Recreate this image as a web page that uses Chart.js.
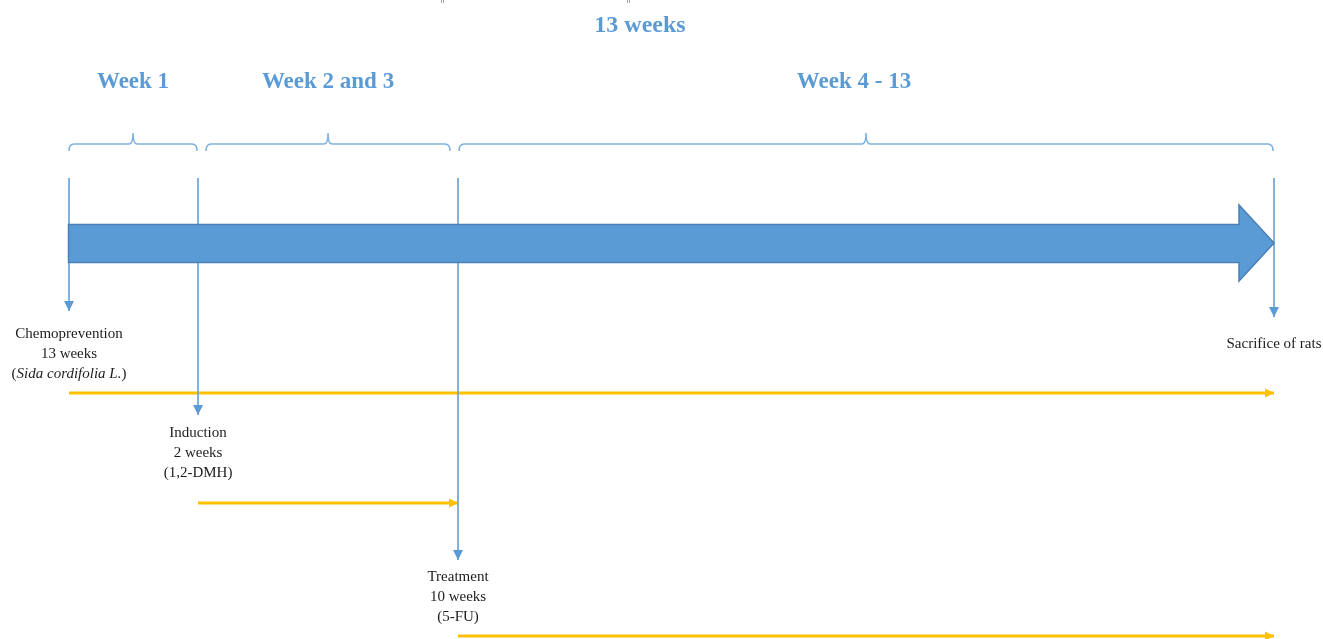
<!DOCTYPE html>
<html>
<head>
<meta charset="utf-8">
<style>
  html, body { margin: 0; padding: 0; background: #ffffff; }
  #wrap { width: 1323px; height: 639px; position: relative; }
</style>
<script src="https://cdn.jsdelivr.net/npm/chart.js@4.4.1/dist/chart.umd.min.js"></script>
</head>
<body>
<div id="wrap"><canvas id="c"></canvas></div>
<script>
// ---------- DATA ----------
const totalTitle = '13 weeks';
const periodLabels = ['Week 1', 'Week 2 and 3', 'Week 4 - 13'];
const periodStartWeek = [0, 1, 3];
const periodEndWeek = [1, 3, 13];

const phaseNames = ['Chemoprevention', 'Induction', 'Treatment'];
const phaseDurations = ['13 weeks', '2 weeks', '10 weeks'];
const phaseAgents = ['Sida cordifolia L.', '1,2-DMH', '5-FU'];
const phaseAgentItalic = [true, false, false];
const phaseStartWeek = [0, 1, 3];
const phaseEndWeek = [13, 3, 13];

const endLabel = 'Sacrifice of rats';
const endWeek = 13;

// ---------- LAYOUT (schematic, not data) ----------
const milestoneWeeks = [0, 1, 3, 13];
const milestoneAxis = [0, 1.392, 4.197, 13];   // schematic spacing of the drawing
function wx(w) {
  for (let i = 0; i < milestoneWeeks.length - 1; i++) {
    const a = milestoneWeeks[i], b = milestoneWeeks[i + 1];
    if (w <= b) return milestoneAxis[i] + (w - a) / (b - a) * (milestoneAxis[i + 1] - milestoneAxis[i]);
  }
  return milestoneAxis[milestoneAxis.length - 1];
}
const L = {
  titleY: 26, titleX: 6.16,
  periodLabelY: 81, periodLabelShift: [0, 0, -12],
  braceY: 144, braceTipY: 133, braceEndY: 151,
  braceInset: [[0, 1], [8, 8], [1, 1]],
  markerTop: 178,
  arrowBodyTop: 224.5, arrowBodyBottom: 262.5, arrowHeadTop: 205, arrowHeadBottom: 281, arrowHeadLen: 35,
  phaseTipY: [311, 415, 560],
  phaseTextY: [334.5, 433.5, 577.5], lineGap: 20,
  phaseBarY: [393, 503, 636],
  endTipY: 317, endTextY: 344.5
};
const BLUE = '#5B9BD5', LINEBLUE = '#6FA7DC', BRACE = '#7FB0DE', ORANGE = '#FFC000', TEXT = '#1c1c1c';
const SERIF = '"Liberation Serif", "Times New Roman", serif';

// ---------- datasets ----------
const datasets = [];
phaseStartWeek.forEach((w, i) => {
  datasets.push({ data: [{ x: wx(w), y: L.markerTop }, { x: wx(w), y: L.phaseTipY[i] }],
    borderColor: LINEBLUE, borderWidth: 1, showLine: true, pointRadius: 0, _arrow: 'down', _color: BLUE });
});
datasets.push({ data: [{ x: wx(endWeek), y: L.markerTop }, { x: wx(endWeek), y: L.endTipY }],
  borderColor: LINEBLUE, borderWidth: 1, showLine: true, pointRadius: 0, _arrow: 'down', _color: BLUE });
phaseStartWeek.forEach((w, i) => {
  datasets.push({ data: [{ x: wx(w), y: L.phaseBarY[i] }, { x: wx(phaseEndWeek[i]), y: L.phaseBarY[i] }],
    borderColor: ORANGE, borderWidth: 3, showLine: true, pointRadius: 0, _arrow: 'right', _color: ORANGE });
});

// ---------- plugin ----------
const diagram = {
  id: 'diagram',
  afterDatasetsDraw(chart) {
    const { ctx, scales: { x, y } } = chart;
    ctx.save();
    // big timeline arrow (drawn over marker lines)
    const x0 = x.getPixelForValue(wx(0)) - 0.5, x1 = x.getPixelForValue(wx(13));
    const hb = x1 - L.arrowHeadLen;
    const bt = y.getPixelForValue(L.arrowBodyTop), bb = y.getPixelForValue(L.arrowBodyBottom);
    const ht = y.getPixelForValue(L.arrowHeadTop), hbm = y.getPixelForValue(L.arrowHeadBottom);
    ctx.beginPath();
    ctx.moveTo(x0, bt); ctx.lineTo(hb, bt); ctx.lineTo(hb, ht); ctx.lineTo(x1, (ht + hbm) / 2);
    ctx.lineTo(hb, hbm); ctx.lineTo(hb, bb); ctx.lineTo(x0, bb); ctx.closePath();
    ctx.fillStyle = BLUE; ctx.fill();
    ctx.strokeStyle = '#4A80B8'; ctx.lineWidth = 1.5; ctx.stroke();

    // arrowheads
    chart.data.datasets.forEach((ds) => {
      const p = ds.data[ds.data.length - 1];
      const px = x.getPixelForValue(p.x), py = y.getPixelForValue(p.y);
      ctx.fillStyle = ds._color;
      ctx.beginPath();
      if (ds._arrow === 'down') {
        ctx.moveTo(px, py); ctx.lineTo(px - 5, py - 10); ctx.lineTo(px + 5, py - 10);
      } else {
        ctx.moveTo(px, py); ctx.lineTo(px - 9, py - 4.5); ctx.lineTo(px - 9, py + 4.5);
      }
      ctx.closePath(); ctx.fill();
    });
    // braces
    ctx.strokeStyle = BRACE; ctx.lineWidth = 1.5;
    const by = y.getPixelForValue(L.braceY), btp = y.getPixelForValue(L.braceTipY), be = y.getPixelForValue(L.braceEndY);
    periodStartWeek.forEach((w, i) => {
      const a = x.getPixelForValue(wx(w)) + L.braceInset[i][0];
      const b = x.getPixelForValue(wx(periodEndWeek[i])) - L.braceInset[i][1];
      const m = (a + b) / 2;
      ctx.beginPath();
      ctx.moveTo(a, be);
      ctx.quadraticCurveTo(a, by, a + 5, by);
      ctx.lineTo(m - 4, by);
      ctx.quadraticCurveTo(m, by, m, btp);
      ctx.quadraticCurveTo(m, by, m + 4, by);
      ctx.lineTo(b - 5, by);
      ctx.quadraticCurveTo(b, by, b, be);
      ctx.stroke();
    });
    // cut-off marks at top edge
    ctx.strokeStyle = '#a0a0a0'; ctx.lineWidth = 1;
    [441.5, 443.5, 627.5, 629.5].forEach(px => { ctx.beginPath(); ctx.moveTo(px, 0); ctx.lineTo(px, 3); ctx.stroke(); });

    // titles
    ctx.textAlign = 'center'; ctx.textBaseline = 'middle';
    ctx.fillStyle = BLUE;
    ctx.font = 'bold 24px ' + SERIF;
    ctx.fillText(totalTitle, x.getPixelForValue(L.titleX), y.getPixelForValue(L.titleY));
    ctx.font = 'bold 23px ' + SERIF;
    periodLabels.forEach((t, i) => {
      const a = x.getPixelForValue(wx(periodStartWeek[i])) + L.braceInset[i][0];
      const b = x.getPixelForValue(wx(periodEndWeek[i])) - L.braceInset[i][1];
      ctx.fillText(t, (a + b) / 2 + L.periodLabelShift[i], y.getPixelForValue(L.periodLabelY + 1.5));
    });
    // phase texts
    ctx.fillStyle = TEXT;
    phaseNames.forEach((n, i) => {
      const cx = x.getPixelForValue(wx(phaseStartWeek[i]));
      const ty = L.phaseTextY[i];
      ctx.font = '15px ' + SERIF;
      ctx.textAlign = 'center';
      ctx.fillText(n, cx, y.getPixelForValue(ty));
      ctx.fillText(phaseDurations[i], cx, y.getPixelForValue(ty + L.lineGap));
      const ly = y.getPixelForValue(ty + 2 * L.lineGap);
      if (phaseAgentItalic[i]) {
        ctx.font = '15px ' + SERIF; const wp = ctx.measureText('(').width, wq = ctx.measureText(')').width;
        ctx.font = 'italic 15px ' + SERIF; const wi = ctx.measureText(phaseAgents[i]).width;
        let sx = cx - (wp + wi + wq) / 2;
        ctx.textAlign = 'left';
        ctx.font = '15px ' + SERIF; ctx.fillText('(', sx, ly); sx += wp;
        ctx.font = 'italic 15px ' + SERIF; ctx.fillText(phaseAgents[i], sx, ly); sx += wi;
        ctx.font = '15px ' + SERIF; ctx.fillText(')', sx, ly);
      } else {
        ctx.fillText('(' + phaseAgents[i] + ')', cx, ly);
      }
    });
    ctx.font = '15px ' + SERIF; ctx.textAlign = 'center';
    ctx.fillText(endLabel, x.getPixelForValue(wx(endWeek)), y.getPixelForValue(L.endTextY));
    ctx.restore();
  }
};

const pxPerUnit = (1274 - 69) / 13;
new Chart(document.getElementById('c'), {
  type: 'scatter',
  data: { datasets },
  options: {
    responsive: true, maintainAspectRatio: false, animation: false,
    layout: { padding: 0 },
    plugins: { legend: { display: false }, tooltip: { enabled: false } },
    events: [],
    scales: {
      x: { type: 'linear', display: false, min: -69 / pxPerUnit, max: 13 + (1323 - 1274) / pxPerUnit },
      y: { type: 'linear', display: false, reverse: true, min: 0, max: 639 }
    }
  },
  plugins: [diagram]
});
</script>
</body>
</html>
